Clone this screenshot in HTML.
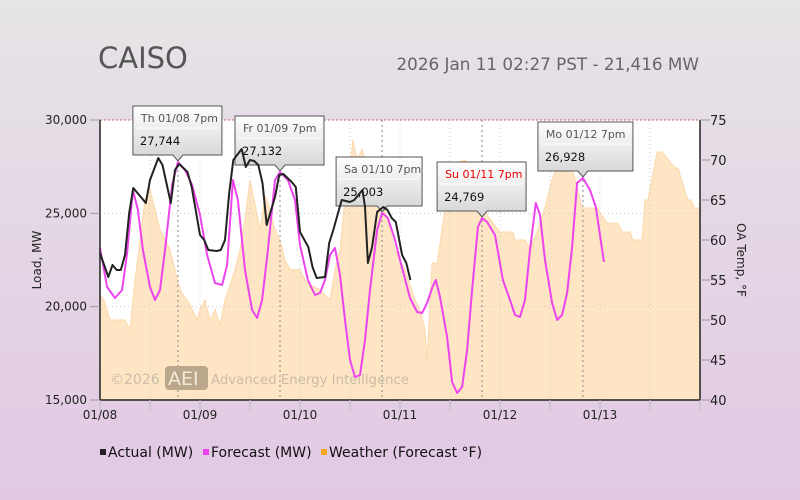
<!DOCTYPE html>
<html><head><meta charset="utf-8"><style>
body{margin:0;width:800px;height:500px;overflow:hidden;font-family:"DejaVu Sans","Liberation Sans",sans-serif;}
#bg{position:absolute;left:0;top:0;width:800px;height:500px;background:linear-gradient(#e6e4e6,#e2c8e4);}
svg{position:absolute;left:0;top:0}
</style></head><body>
<div id="bg"></div>
<svg id="c" width="800" height="500"></svg>
<script>
const actualHours=[0,2,3,4,5,6,7,8,10,11,12,14,15,17,18,19,21,22,24,25,26,28,29,30,31,32,34,35,36,37,38,39,40,42,43,44,46,47,48,50,51,52,54,55,56,58,60,61,62,63,63.6,64.3,65.3,66.5,68,69,70,71,72.5,73.5,74.5];
const actualMW=[22875,21590,22232,21964,21964,22768,25018,26357,25821,25553,26785,27964,27589,25553,27321,27643,27214,26411,23839,23571,23036,22982,23036,23571,26089,27857,28446,27482,27857,27804,27589,26625,24375,25875,27054,27107,26679,26411,24000,23196,22125,21536,21589,23411,24107,25714,25607,25714,25982,26250,25339,22339,23196,25071,25339,25179,24750,24536,22768,22339,21429];
const forecastHours=[0,1.7,3.6,5.3,6.5,7.9,9.1,10.3,12,13.2,14.4,15.6,17.3,18.7,20.4,22.1,24,25.7,27.6,29.3,30.5,31.9,33.1,34.8,36.5,37.7,38.9,40.3,42,43.2,45.1,46.8,48,49.9,51.6,52.8,54,55.2,56.4,57.6,58.8,60,61.2,62.4,63.6,64.8,66.5,67.7,69.1,70.8,72,74.4,76.1,77.3,78.5,79.7,80.6,81.6,83.3,84.5,85.7,86.9,88.1,89.3,90.7,91.7,92.9,94.8,96.7,98.4,99.6,100.8,102,103.2,104.6,105.6,106.8,108.5,109.7,110.9,112.1,113.3,114.5,115.9,117.6,119,120.96];
const forecastMW=[23143,21054,20464,20893,22875,26250,25179,23036,21054,20357,20893,23036,26518,27750,27321,26518,24911,22768,21268,21161,22232,26786,25714,21964,19821,19393,20357,23036,26786,27214,26786,25714,23304,21429,20625,20732,21429,22768,23143,21696,19286,17143,16232,16339,18214,20893,24107,25018,24750,23571,22500,20464,19714,19661,20196,21000,21429,20518,18375,15964,15375,15696,17679,20893,24268,24750,24536,23839,21429,20357,19554,19446,20357,23036,25554,24911,22500,20196,19286,19554,20732,23196,26625,26893,26250,25339,22393];
const tempHours=[0,1,2.4,6,7.2,8.4,10.8,12,14.4,16.8,19.2,21.6,23.3,24,25.2,26.4,27.6,28.8,30,32.4,33.6,34.8,36,37.2,38.4,39.6,40.8,42,43.2,44.4,45.6,48,49.2,50.4,52.8,55.2,56.4,57.6,58.8,60,60.7,61.7,62.9,64.3,66,68.4,70.8,73.2,75.6,76.8,78,78.5,79.7,80.9,82.8,84.7,86.4,87.6,88.8,92.9,96,99.1,99.6,102,103.2,104.9,106.8,108.7,110.4,112.8,114.5,115.7,119.3,121.7,124.3,125.3,127.2,127.9,130.1,130.8,131.5,133.7,134.9,138,138.7,141.1,141.8,142.6,144];
const tempF=[53.1,52.5,50,50,48.8,55,65,66.3,61.3,58.8,53.8,51.9,50,51.3,52.5,50,51.3,49.4,52.5,56.3,58.8,62.5,67.5,64.4,61.3,65.6,63.8,61.3,60,57.5,56.3,56.3,55,54.4,53.8,52.5,56.3,58.8,65,68.8,72.5,70,71.3,68.8,65,63.8,58.8,56.3,52.5,51.3,48.8,45,57.1,57.1,63.8,67.9,69.8,70,69.4,63.1,61,61,60,60,59,61,64.1,67.9,70,70,66.6,64,64,62.1,62.1,61,61,60,60,65,65,71,71,69,69,65,65,64,64];
const loadTicks=[15000,20000,25000,30000];
const tempTicks=[40,45,50,55,60,65,70,75];
const dayLabels=["01/08","01/09","01/10","01/11","01/12","01/13"];
const peakHours=[18.7,43.2,67.7,91.7,115.9];
const peakLabels=["Th 01/08 7pm","Fr 01/09 7pm","Sa 01/10 7pm","Su 01/11 7pm","Mo 01/12 7pm"];
const peakValues=["27,744","27,132","25,003","24,769","26,928"];

const L=100,R=700,T=120,B=400;
const x=h=>L+h*(R-L)/144;
const yL=v=>B-(v-15000)*(B-T)/15000;
const yT=v=>B-(v-40)*(B-T)/35;
const NS="http://www.w3.org/2000/svg";
const svg=document.getElementById('c');
function mk(tag,attrs,txt){const e=document.createElementNS(NS,tag);for(const k in attrs)e.setAttribute(k,attrs[k]);if(txt!=null)e.textContent=txt;svg.appendChild(e);return e;}
let e;
e=mk('text',{x:98,y:68,'font-size':29,fill:'#555'},'CAISO');


e=mk('text',{x:699,y:70,'font-size':16.8,fill:'#666','text-anchor':'end'},'2026 Jan 11 02:27 PST - 21,416 MW');


e=mk('rect',{x:L,y:T,width:R-L,height:B-T,fill:'#fff'});


let d=`M${x(tempHours[0])},${B}`;tempHours.forEach((h,i)=>d+=`L${x(h)},${yT(tempF[i])}`);d+=`L${x(tempHours[tempHours.length-1])},${B}Z`;
e=mk('path',{d,fill:'#fee5c4',stroke:'#fcd9ab','stroke-width':1});


for(let h=12;h<144;h+=12){e=mk('line',{x1:x(h),x2:x(h),y1:T,y2:B,stroke:'#ccc','stroke-dasharray':'1,3'});

}
[20000,25000].forEach(v=>{e=mk('line',{x1:L,x2:R,y1:yL(v),y2:yL(v),stroke:'#ccc','stroke-dasharray':'1,3'});

});
e=mk('line',{x1:L,x2:R,y1:T,y2:T,stroke:'#c66','stroke-dasharray':'2,2'});


peakHours.forEach(h=>{e=mk('line',{x1:x(h),x2:x(h),y1:T,y2:B,stroke:'#888','stroke-dasharray':'2,3'});

});
e=mk('text',{x:110,y:384,'font-size':14,fill:'#c9bca8'},'©2026');


e=mk('rect',{x:165,y:366,width:43,height:24,rx:4,fill:'#bba78b'});


e=mk('text',{x:168,y:385,'font-size':19,fill:'#f4ead9'},'AEI');


e=mk('text',{x:211,y:384,'font-size':13.3,fill:'#c9bca8'},'Advanced Energy Intelligence');


peakHours.forEach((h,i)=>{
 const px=x(h),py=yL(forecastMW[forecastHours.indexOf(h)]);
 const w=i===4?95:(i===2?86:89),hh=49;
 const bx=i===2?px-46:px-45,by=py-7-hh;
 const g=document.createElementNS(NS,'g');svg.appendChild(g);
 
 
 const grad=document.createElementNS(NS,'linearGradient');
 grad.setAttribute('id','tg'+i);grad.setAttribute('x1',0);grad.setAttribute('y1',0);grad.setAttribute('x2',0);grad.setAttribute('y2',1);
 grad.innerHTML='<stop offset="0" stop-color="#ffffff"/><stop offset="1" stop-color="#d4d4d4"/>';
 g.appendChild(grad);
 const p=document.createElementNS(NS,'path');
 p.setAttribute('d',`M${bx},${by}h${w}v${hh}H${px+5}l-5,6l-5,-6H${bx}Z`);
 p.setAttribute('fill',`url(#tg${i})`);p.setAttribute('stroke','#555');g.appendChild(p);
 const l=document.createElementNS(NS,'line');l.setAttribute('x1',bx+3);l.setAttribute('x2',bx+w-3);l.setAttribute('y1',by+22);l.setAttribute('y2',by+22);l.setAttribute('stroke','#fff');g.appendChild(l);
 const t1=document.createElementNS(NS,'text');t1.setAttribute('x',bx+8);t1.setAttribute('y',by+16);t1.setAttribute('font-size',11);t1.setAttribute('fill',i===3?'#e00':'#555');t1.textContent=peakLabels[i];g.appendChild(t1);
 
 
 const t2=document.createElementNS(NS,'text');t2.setAttribute('x',bx+7);t2.setAttribute('y',by+39);t2.setAttribute('font-size',11.5);t2.setAttribute('fill','#111');t2.textContent=peakValues[i];g.appendChild(t2);
 
 
});
const pts=(hs,vs)=>hs.map((h,i)=>`${x(h).toFixed(1)},${yL(vs[i]).toFixed(1)}`).join(' ');
e=mk('polyline',{points:pts(forecastHours,forecastMW),fill:'none',stroke:'#ee44ee','stroke-width':2,'stroke-linejoin':'round'});


e=mk('polyline',{points:pts(actualHours,actualMW),fill:'none',stroke:'#222','stroke-width':2,'stroke-linejoin':'round'});


e=mk('line',{x1:L,x2:L,y1:T,y2:B,stroke:'#222','stroke-width':1.5});


e=mk('line',{x1:R,x2:R,y1:T,y2:B,stroke:'#222','stroke-width':1.5});


e=mk('line',{x1:L,x2:R,y1:B,y2:B,stroke:'#222','stroke-width':1.5});


loadTicks.forEach(v=>{
e=mk('line',{x1:L-10,x2:L,y1:yL(v),y2:yL(v),stroke:'#999'});


e=mk('text',{x:L-13,y:yL(v)+4,'font-size':12,fill:'#222','text-anchor':'end'},v.toLocaleString('en-US'));

});
tempTicks.forEach(v=>{
e=mk('line',{x1:R,x2:R+10,y1:yT(v),y2:yT(v),stroke:'#999'});


e=mk('text',{x:R+10,y:yT(v)+5,'font-size':13,fill:'#222'},String(v));

});
for(let h=0;h<=144;h+=12){e=mk('line',{x1:x(h),x2:x(h),y1:B,y2:B+10,stroke:'#bbb'});

}
dayLabels.forEach((t,i)=>{e=mk('text',{x:x(i*24),y:419,'font-size':12,fill:'#222','text-anchor':'middle'},t);

});
e=mk('text',{x:0,y:0,'font-size':12,fill:'#222','text-anchor':'middle',transform:'translate(41,260) rotate(-90)'},'Load, MW');


e=mk('text',{x:0,y:0,'font-size':12,fill:'#222','text-anchor':'middle',transform:'translate(737,260) rotate(90)'},'OA Temp, °F');


const leg=[['#222','Actual (MW)',100],['#ee44ee','Forecast (MW)',203],['#f5a623','Weather (Forecast °F)',321]];
leg.forEach(([c,t,lx])=>{
e=mk('rect',{x:lx,y:449,width:6,height:6,fill:c});


e=mk('text',{x:lx+8,y:457,'font-size':14,fill:'#111'},t);

});
</script>
</body></html>
